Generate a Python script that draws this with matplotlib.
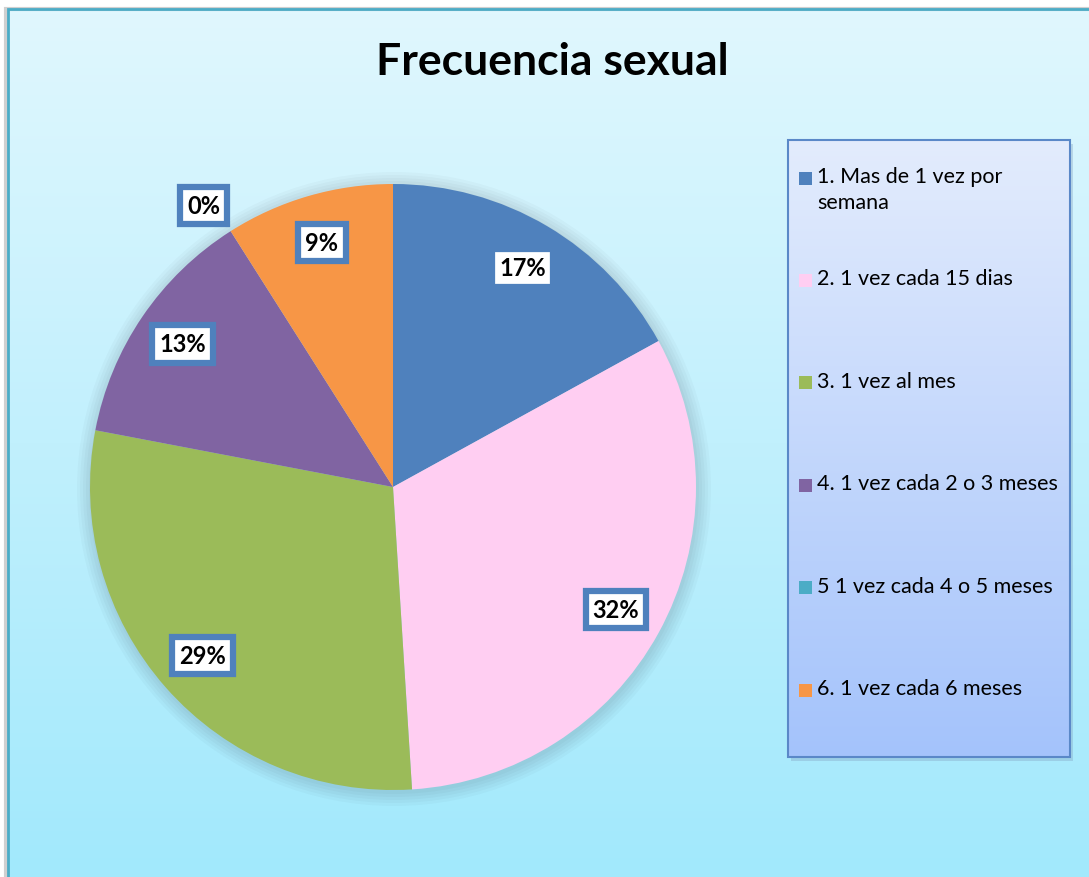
import numpy as np
import matplotlib.pyplot as plt
from matplotlib.patches import Rectangle, Circle
from matplotlib.colors import LinearSegmentedColormap

plt.rcParams['font.family'] = ['Lato', 'DejaVu Sans']

# data
title = 'Frecuencia sexual'
categories = ['1. Mas de 1 vez por\nsemana',
              '2. 1 vez cada 15 dias',
              '3. 1 vez al mes',
              '4. 1 vez cada 2 o 3 meses',
              '5 1 vez cada 4 o 5 meses',
              '6. 1 vez cada 6 meses']
values = [17, 32, 29, 13, 0, 9]
colors = ['#4F81BD', '#FFCEF2', '#9BBB59', '#8064A2', '#4BACC6', '#F79646']

W, H = 1089, 878
fig = plt.figure(figsize=(W / 100, H / 100), dpi=100)
ax = fig.add_axes([0, 0, 1, 1])

# chart area background (vertical gradient) + frame
bg = LinearSegmentedColormap.from_list('bg', ['#A2E9FC', '#E0F7FE'])
grad = np.linspace(0, 1, 256).reshape(-1, 1)
ax.imshow(grad, extent=(8, W, 0, H - 10), origin='lower', cmap=bg,
          aspect='auto', interpolation='bilinear', zorder=0)
ax.add_patch(Rectangle((6, -30), W + 40, H - 10 + 30, fill=False, ec='#D0D0D0',
                       lw=3, zorder=0.5))
ax.add_patch(Rectangle((8, -30), W + 40, H - 10 + 30, fill=False, ec='#4BACC6',
                       lw=2, zorder=1))

# pie
cx, cy, R = 393, H - 488, 303
for k in range(2, 16, 3):
    ax.add_patch(Circle((cx + 1, cy - 2), R + k, color='black', alpha=0.025,
                        lw=0, zorder=1.5))
wedges, _ = ax.pie(values, colors=colors, startangle=90, counterclock=False,
                   center=(cx, cy), radius=R, wedgeprops=dict(linewidth=0))
for w in wedges:
    w.set_zorder(2)

total = sum(values)
cum = np.cumsum(values)
for v, c in zip(values, cum):
    ang = np.deg2rad(90 - 360 * (c - v / 2) / total)
    r = 0.84 if v > 0 else 1.12
    if v == 0:
        ang += np.deg2rad(1.5)
    ax.text(cx + r * R * np.cos(ang), cy + r * R * np.sin(ang),
            '{:.0f}%'.format(100 * v / total), ha='center', va='center',
            fontsize=17, weight='bold', zorder=5,
            bbox=dict(boxstyle='square,pad=0.3', fc='white', ec='#4F81BD',
                      lw=4.5))

# title
ax.text(552, H - 62, title, ha='center', va='center', fontsize=32,
        weight='bold', zorder=5)

# legend box
lx0, lx1, ly0, ly1 = 788, 1070, H - 758, H - 141
ax.add_patch(Rectangle((lx0 + 3, ly0 - 4), lx1 - lx0, ly1 - ly0, color='#7F9FBF',
                       alpha=0.35, lw=0, zorder=2.5))
lg = LinearSegmentedColormap.from_list('lg', ['#A4C3FB', '#E3ECFD'])
ax.imshow(grad, extent=(lx0, lx1, ly0, ly1), origin='lower', cmap=lg,
          aspect='auto', interpolation='bilinear', zorder=3)
ax.add_patch(Rectangle((lx0, ly0), lx1 - lx0, ly1 - ly0, fill=False,
                       ec='#5A88C8', lw=1.5, zorder=4))
for i, (cat, col) in enumerate(zip(categories, colors)):
    y = H - (179 + i * 102.4)
    ax.add_patch(Rectangle((799, y - 6.5), 13, 13, color=col, lw=0, zorder=5))
    ax.text(817, y + 12, cat, ha='left', va='top', fontsize=15.5,
            linespacing=1.4, zorder=5)

ax.set_xlim(0, W)
ax.set_ylim(0, H)
ax.set_aspect('auto')
ax.axis('off')
fig.savefig('out.png', dpi=100, facecolor='white')
